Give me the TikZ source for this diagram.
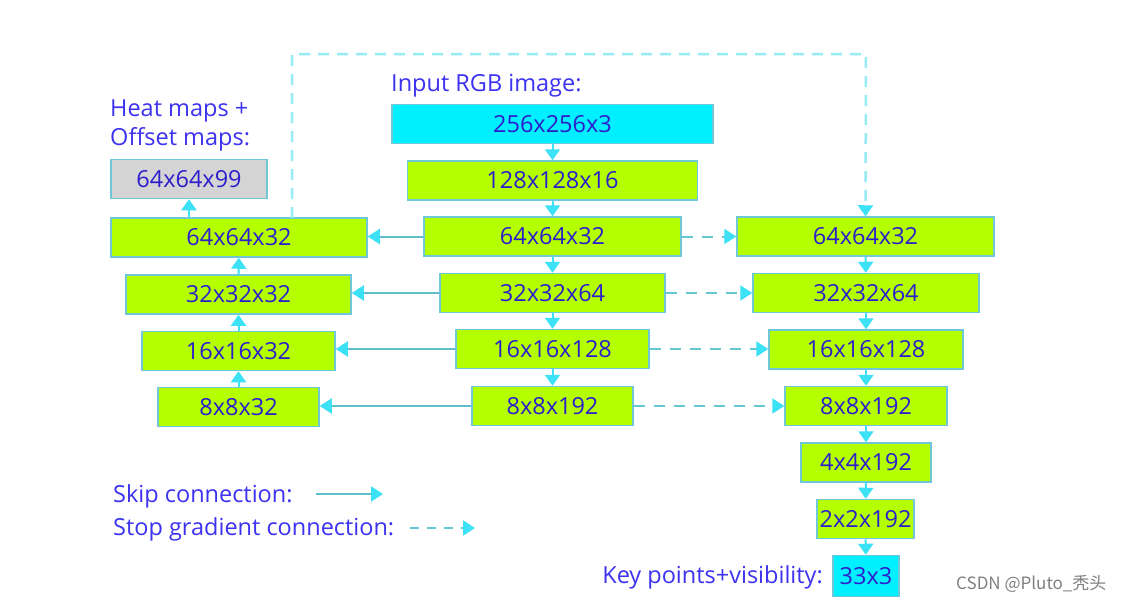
\documentclass[tikz,border=0pt]{standalone}
\usepackage{fontspec}
\setmainfont{Open Sans}
\newfontfamily\cjkfont{Noto Sans CJK SC}
\usetikzlibrary{arrows.meta}

\definecolor{limegreen}{RGB}{180,255,0}
\definecolor{brightcyan}{RGB}{0,240,255}
\definecolor{mapgray}{RGB}{212,212,212}
\definecolor{boxedge}{RGB}{110,200,215}
\definecolor{tipcyan}{RGB}{60,225,245}
\definecolor{skipline}{RGB}{95,190,205}
\definecolor{gradline}{RGB}{100,200,212}
\definecolor{loopline}{RGB}{150,235,245}
\definecolor{boxtext}{RGB}{45,30,205}
\definecolor{labeltext}{RGB}{60,50,240}

\begin{document}
\begin{tikzpicture}[x=1pt, y=-1pt,
	every node/.style={font=\fontsize{23.5}{28}\selectfont},
	layer/.style={draw=boxedge, line width=1.5pt, fill=limegreen, text=boxtext, minimum height=39pt, inner sep=0pt},
	inout/.style={layer, fill=brightcyan},
	heads/.style={layer, fill=mapgray},
	lbl/.style={text=labeltext, inner sep=0pt},
	down/.style={draw=tipcyan, line width=2pt, -{Triangle[length=11pt,width=15pt]}},
	skip/.style={draw=skipline, line width=2pt, -{Triangle[length=12pt,width=15pt,color=tipcyan]}},
	grad/.style={draw=gradline, line width=2pt, dash pattern=on 11pt off 9pt, -{Triangle[length=12pt,width=15pt,color=tipcyan]}},
	gradloop/.style={draw=loopline, line width=2.5pt, dash pattern=on 11pt off 8pt, -{Triangle[length=11pt,width=15pt,color=tipcyan]}}]

	\useasboundingbox[fill=white] (0,0) rectangle (1121,600);

	\node[inout, minimum width=321pt] (cin) at (552.5,124) {256x256x3};
	\node[layer, minimum width=290pt] (c128) at (552.5,180.5) {128x128x16};
	\node[layer, minimum width=257pt] (c64) at (552.5,236.5) {64x64x32};
	\node[layer, minimum width=225pt] (c32) at (552.5,293) {32x32x64};
	\node[layer, minimum width=193pt] (c16) at (552.5,349) {16x16x128};
	\node[layer, minimum width=161pt] (c8) at (552.5,406) {8x8x192};

	\node[heads, minimum width=156pt] (lout) at (189,179) {64x64x99};
	\node[layer, minimum width=256pt] (l64) at (239,237.5) {64x64x32};
	\node[layer, minimum width=225pt] (l32) at (238.5,294.5) {32x32x32};
	\node[layer, minimum width=193pt] (l16) at (238.5,351) {16x16x32};
	\node[layer, minimum width=161pt] (l8) at (238.5,407) {8x8x32};

	\node[layer, minimum width=257pt] (r64) at (865.5,236.5) {64x64x32};
	\node[layer, minimum width=226pt] (r32) at (866,293) {32x32x64};
	\node[layer, minimum width=194pt] (r16) at (866,349.5) {16x16x128};
	\node[layer, minimum width=162pt] (r8) at (866,406) {8x8x192};
	\node[layer, minimum width=130pt] (r4) at (866,462.5) {4x4x192};
	\node[layer, minimum width=97pt] (r2) at (865.5,519) {2x2x192};
	\node[inout, minimum width=66pt, minimum height=41pt] (rout) at (866,576) {33x3};

	\node[lbl, anchor=base west] (inlbl) at (391,91) {Input RGB image:};
	\node[lbl, anchor=base west] (heatlbl) at (110,116) {Heat maps +};
	\node[lbl, anchor=base west] (offlbl) at (110,145) {Offset maps:};
	\node[lbl, anchor=base east] (keylbl) at (823,583) {Key points+visibility:};
	\node[lbl, anchor=base west] (skiplbl) at (113,502) {Skip connection:};
	\node[lbl, anchor=base west] (gradlbl) at (113,535) {Stop gradient connection:};
	\node[anchor=base west, inner sep=0pt, text=gray, font=\cjkfont\fontsize{17}{20}\selectfont] (mark) at (956,589) {CSDN @Pluto\_秃头};

	\foreach \a/\b in {cin/c128, c128/c64, c64/c32, c32/c16, c16/c8, r64/r32, r32/r16, r16/r8, r8/r4, r4/r2, r2/rout, l8/l16, l16/l32, l32/l64}
		\draw[down] (\a) -- (\b);
	\draw[down] (l64.north -| lout.south) -- (lout.south);

	\foreach \n in {64, 32, 16, 8} {
		\draw[skip] (c\n.west) -- (c\n.west -| l\n.east);
		\draw[grad] (c\n.east) -- (c\n.east -| r\n.west);
	}

	\coordinate (loopfoot) at (292,218);
	\coordinate (looptop) at (866,54);
	\draw[gradloop] (loopfoot) |- (looptop) -- (r64.north);

	\coordinate (skipa) at (316,494);
	\coordinate (skipb) at (383,494);
	\draw[skip] (skipa) -- (skipb);
	\coordinate (grada) at (410,528);
	\coordinate (gradb) at (475,528);
	\draw[grad, dash pattern=on 9pt off 8pt] (grada) -- (gradb);
\end{tikzpicture}
\end{document}
